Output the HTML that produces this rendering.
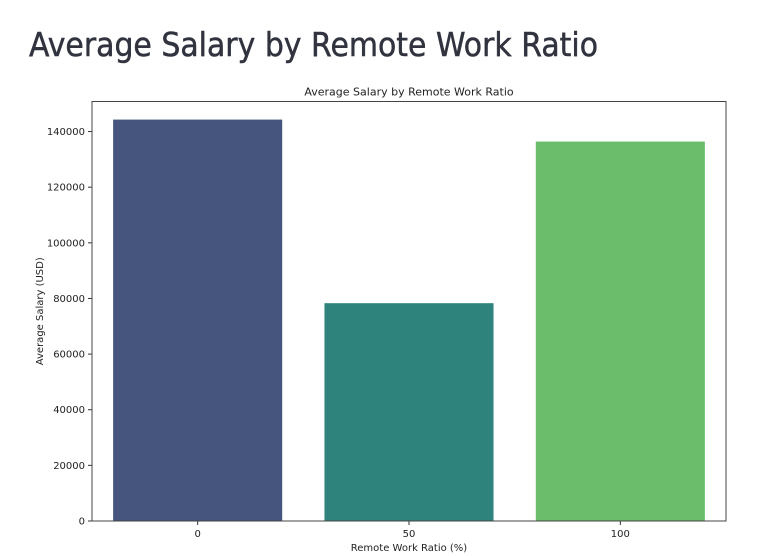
<!DOCTYPE html>
<html><head><meta charset="utf-8"><style>
body{margin:0;background:#fff;width:768px;height:556px;overflow:hidden;font-family:"Liberation Sans","DejaVu Sans",sans-serif}
svg{position:absolute;left:0;top:0}
</style></head><body>
<svg width="768" height="556" font-family="DejaVu Sans, Liberation Sans, sans-serif">
<text x="29" y="56" font-family="DejaVu Sans, sans-serif" font-size="33" fill="#31333f" stroke="#31333f" stroke-width="0.5" textLength="569" lengthAdjust="spacingAndGlyphs">Average Salary by Remote Work Ratio</text>
<g id="g"></g>
</svg>
<script>
const categories=["0","50","100"];
const values=[144300,78300,136400];
const colors=["#46557e","#2e837c","#6bbd6c"];
const yTicks=[0,20000,40000,60000,80000,100000,120000,140000];
const L=92,R=726,T=101.5,B=521,yMax=150800;
const y=v=>B-(v/yMax)*(B-T);
const step=(R-L)/categories.length;
const x=i=>L+step*(i+0.5);
const g=document.getElementById('g');
const NS='http://www.w3.org/2000/svg';
function mk(t,a,txt){const e=document.createElementNS(NS,t);for(const k in a)e.setAttribute(k,a[k]);if(txt!=null)e.textContent=txt;g.appendChild(e);return e;}
categories.forEach((c,i)=>{
 const w=step*0.8;
 const b=mk('rect',{x:x(i)-w/2,y:y(values[i]),width:w,height:B-y(values[i]),fill:colors[i]});
 
 
 mk('line',{x1:x(i),x2:x(i),y1:B,y2:B+4,stroke:'#333'});
 const t=mk('text',{x:x(i),y:B+16,'text-anchor':'middle','font-size':10,fill:'#222'},c);
 
 
});
yTicks.forEach(v=>{
 mk('line',{x1:L-4,x2:L,y1:y(v),y2:y(v),stroke:'#333'});
 const t=mk('text',{x:L-7,y:y(v)+3.5,'text-anchor':'end','font-size':10,fill:'#222'},v);
 
 
});
const f=mk('rect',{x:L,y:T,width:R-L,height:B-T,fill:'none',stroke:'#444','stroke-width':1});


const ct=mk('text',{x:(L+R)/2,y:T-6,'text-anchor':'middle','font-size':11,fill:'#222'},'Average Salary by Remote Work Ratio');


const xt=mk('text',{x:(L+R)/2,y:B+30,'text-anchor':'middle','font-size':10,fill:'#222'},'Remote Work Ratio (%)');


const yt=mk('text',{x:0,y:0,'text-anchor':'middle','font-size':10,fill:'#222',transform:`translate(43,${(T+B)/2}) rotate(-90)`},'Average Salary (USD)');


</script>
</body></html>
